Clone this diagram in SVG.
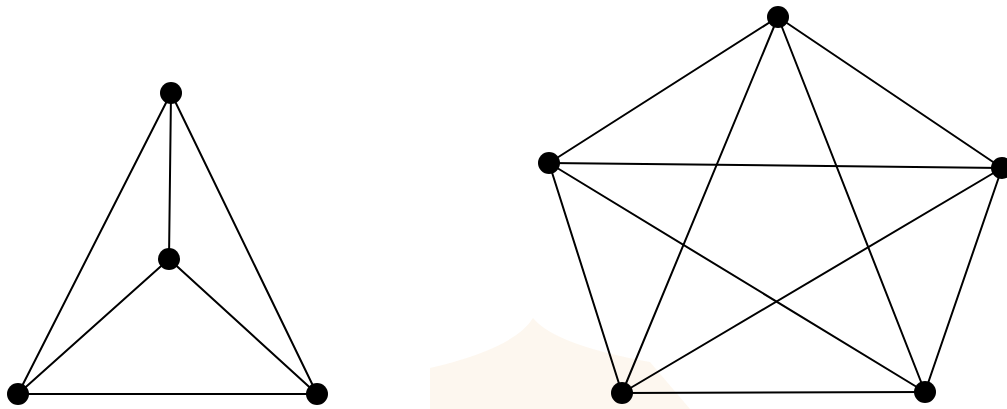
<svg xmlns="http://www.w3.org/2000/svg" width="1007" height="409" viewBox="0 0 1007 409">
<style>
.e{stroke:#000;stroke-width:2;fill:none;stroke-linecap:round}
.n{fill:#000}
</style>
<rect width="1007" height="409" fill="#fff"/>
<g id="watermark" opacity="0.2">
<path d="M430 409 L430 368 Q515 348 533 318 Q555 345 650 362 L690 409 Z" fill="#f3d9ae"/>
</g>
<g id="connectors">
<line class="e" x1="171" y1="93" x2="169" y2="259"/>
<line class="e" x1="171" y1="93" x2="18" y2="394"/>
<line class="e" x1="171" y1="93" x2="317" y2="394"/>
<line class="e" x1="169" y1="259" x2="18" y2="394"/>
<line class="e" x1="169" y1="259" x2="317" y2="394"/>
<line class="e" x1="18" y1="394" x2="317" y2="394"/>
<line class="e" x1="778" y1="17" x2="549" y2="163"/>
<line class="e" x1="778" y1="17" x2="1002" y2="168"/>
<line class="e" x1="778" y1="17" x2="622" y2="393"/>
<line class="e" x1="778" y1="17" x2="925" y2="392"/>
<line class="e" x1="549" y1="163" x2="1002" y2="168"/>
<line class="e" x1="549" y1="163" x2="622" y2="393"/>
<line class="e" x1="549" y1="163" x2="925" y2="392"/>
<line class="e" x1="1002" y1="168" x2="622" y2="393"/>
<line class="e" x1="1002" y1="168" x2="925" y2="392"/>
<line class="e" x1="622" y1="393" x2="925" y2="392"/>
</g>
<g id="k4-top"><circle class="n" cx="171" cy="93" r="11"/></g>
<g id="k4-center"><circle class="n" cx="169" cy="259" r="11"/></g>
<g id="k4-left"><circle class="n" cx="18" cy="394" r="11"/></g>
<g id="k4-right"><circle class="n" cx="317" cy="394" r="11"/></g>
<g id="k5-top"><circle class="n" cx="778" cy="17" r="11"/></g>
<g id="k5-left"><circle class="n" cx="549" cy="163" r="11"/></g>
<g id="k5-right"><circle class="n" cx="1002" cy="168" r="11"/></g>
<g id="k5-bottom-left"><circle class="n" cx="622" cy="393" r="11"/></g>
<g id="k5-bottom-right"><circle class="n" cx="925" cy="392" r="11"/></g>
</svg>
